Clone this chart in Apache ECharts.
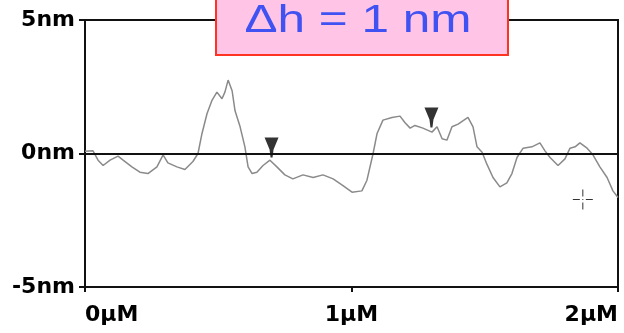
<!DOCTYPE html>
<html>
<head>
<meta charset="utf-8">
<script src="https://cdn.jsdelivr.net/npm/echarts@6/dist/echarts.min.js"></script>
<style>
  html, body { margin: 0; padding: 0; background: #fff; }
  #profile-container { width: 624px; height: 333px; }
</style>
</head>
<body>
<div id="profile-container"></div>
<script>
const profile = echarts.init(document.getElementById('profile-container'))

// scan position (µM) and height (nm)
const xPos = [0.000, 0.030, 0.049, 0.068, 0.094, 0.124, 0.143, 0.176, 0.206, 0.236, 0.270, 0.293, 0.311, 0.345, 0.375, 0.405,
  0.424, 0.439, 0.458, 0.477, 0.495, 0.514, 0.525, 0.537, 0.552, 0.563, 0.582, 0.600, 0.612, 0.627, 0.645, 0.668, 0.694,
  0.720, 0.750, 0.780, 0.818, 0.856, 0.893, 0.931, 0.968, 1.002, 1.039, 1.058, 1.081, 1.096, 1.118, 1.152, 1.182, 1.201,
  1.220, 1.238, 1.268, 1.302, 1.321, 1.340, 1.358, 1.377, 1.400, 1.437, 1.456, 1.471, 1.490, 1.508, 1.531, 1.557, 1.583,
  1.602, 1.621, 1.644, 1.677, 1.707, 1.726, 1.745, 1.775, 1.801, 1.820, 1.839, 1.857, 1.884, 1.906, 1.932, 1.959, 1.981, 2.000]
const heightNm = [0.08, 0.1, -0.25, -0.45, -0.25, -0.1, -0.25, -0.5, -0.7, -0.75, -0.5, -0.05, -0.35, -0.5, -0.6, -0.3,
  0, 0.75, 1.5, 2.0, 2.3, 2.05, 2.3, 2.75, 2.35, 1.6, 1.0, 0.25, -0.5, -0.75, -0.7, -0.45, -0.25,
  -0.5, -0.8, -0.95, -0.8, -0.9, -0.8, -0.95, -1.2, -1.45, -1.4, -1.0, 0, 0.75, 1.25, 1.35, 1.4, 1.15,
  0.95, 1.05, 0.95, 0.8, 1.0, 0.55, 0.5, 1.0, 1.1, 1.35, 1.0, 0.25, 0.05, -0.4, -0.9, -1.25, -1.1,
  -0.75, -0.15, 0.2, 0.25, 0.4, 0.1, -0.15, -0.45, -0.2, 0.2, 0.25, 0.4, 0.2, -0.05, -0.5, -0.9, -1.4, -1.65]

// cursor markers (triangles) and the crosshair
const cursorX = [0.700, 1.300]
const cursorY = [-0.15, 0.97]
const crossX = [1.868]
const crossY = [-1.72]

const yTicks = [-5, 0, 5]
const xTicks = [0, 1, 2]

let trace = xPos.map((x, i) => [x, heightNm[i]])
let cursors = cursorX.map((x, i) => [x, cursorY[i]])
let cross = crossX.map((x, i) => [x, crossY[i]])

let labelFont = {
  color: '#000',
  fontFamily: 'DejaVu Sans',
  fontWeight: 'bold',
  fontSize: 22
}

let option = {
  backgroundColor: '#fff',
  animation: false,
  grid: {
    left: 85,
    right: 6,
    top: 20,
    bottom: 46,
    show: true,
    borderColor: '#111',
    borderWidth: 2
  },
  xAxis: {
    type: 'value',
    min: xTicks[0],
    max: xTicks[2],
    interval: 1,
    splitLine: { show: false },
    axisLine: { onZero: false, lineStyle: { color: '#111', width: 2 } },
    axisTick: { length: 5, lineStyle: { color: '#111', width: 2 } },
    axisLabel: Object.assign({
      margin: 17,
      alignMinLabel: 'left',
      alignMaxLabel: 'right',
      formatter: (v) => v + 'µM'
    }, labelFont)
  },
  yAxis: {
    type: 'value',
    min: yTicks[0],
    max: yTicks[2],
    interval: 5,
    splitLine: { show: false },
    axisLine: { onZero: false, lineStyle: { color: '#111', width: 2 } },
    axisTick: { length: 6, lineStyle: { color: '#111', width: 2 } },
    axisLabel: Object.assign({
      margin: 10,
      formatter: (v) => v + 'nm'
    }, labelFont)
  },
  series: [
    {
      type: 'line',
      data: trace,
      symbol: 'none',
      lineStyle: { color: '#8a8a8a', width: 1.5 },
      markLine: {
        silent: true,
        symbol: 'none',
        label: { show: false },
        lineStyle: { color: '#111', width: 2, type: 'solid' },
        data: [{ yAxis: 0 }]
      },
      z: 3
    },
    {
      type: 'scatter',
      data: cursors,
      symbol: 'path://M0,0L14,0L9,12L8,20L6,20L5,12Z',
      symbolSize: [14, 20],
      symbolOffset: [0, '-50%'],
      itemStyle: { color: '#000' },
      z: 4
    },
    {
      type: 'scatter',
      data: cross,
      symbol: 'path://M0,9.5h7v1h-7zM13,9.5h7v1h-7zM9.5,0h1v7h-1zM9.5,13h1v7h-1zM9.5,9.5h1v1h-1z',
      symbolSize: 20,
      itemStyle: { color: '#000' },
      z: 4
    }
  ],
  graphic: [
    {
      type: 'rect',
      shape: { x: 216, y: -3, width: 292, height: 58 },
      style: { fill: '#ffc4e6', stroke: '#ff3322', lineWidth: 2 },
      z: 10
    },
    {
      type: 'text',
      x: 358,
      y: 21,
      scaleX: 1.27,
      style: {
        text: 'Δh = 1 nm',
        align: 'center',
        verticalAlign: 'middle',
        fontFamily: 'Liberation Sans',
        fontSize: 39,
        fill: '#4052f2'
      },
      z: 11
    }
  ]
}
profile.setOption(option)
</script>
</body>
</html>
